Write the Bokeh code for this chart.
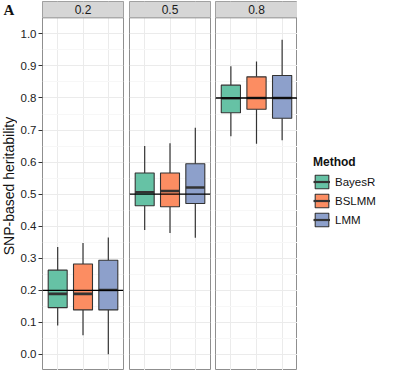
import math
from bokeh.plotting import figure
from bokeh.models import (Range1d, FixedTicker, Span, Legend, LegendItem,
                          ColumnDataSource, NumeralTickFormatter)
from bokeh.layouts import row
from bokeh.embed import file_html
from bokeh.resources import INLINE
from bokeh.core.properties import value

# ---------------- data ----------------
methods = ["BayesR", "BSLMM", "LMM"]
colors = ["#66C2A5", "#FC8D62", "#8DA0CB"]
h2_labels = ["0.2", "0.5", "0.8"]
h2_true = [0.2, 0.5, 0.8]

lower_02 = [0.090, 0.060, 0.001]
q1_02 = [0.146, 0.139, 0.139]
med_02 = [0.189, 0.189, 0.201]
q3_02 = [0.263, 0.282, 0.294]
upper_02 = [0.335, 0.348, 0.365]

lower_05 = [0.388, 0.379, 0.364]
q1_05 = [0.464, 0.461, 0.471]
med_05 = [0.506, 0.510, 0.521]
q3_05 = [0.566, 0.566, 0.595]
upper_05 = [0.650, 0.659, 0.707]

lower_08 = [0.681, 0.657, 0.668]
q1_08 = [0.754, 0.765, 0.737]
med_08 = [0.799, 0.800, 0.800]
q3_08 = [0.840, 0.866, 0.870]
upper_08 = [0.899, 0.914, 0.982]

y_ticks = [0.0, 0.1, 0.2, 0.3, 0.4, 0.5, 0.6, 0.7, 0.8, 0.9, 1.0]
y_minor = [-0.05, 0.05, 0.15, 0.25, 0.35, 0.45, 0.55, 0.65, 0.75, 0.85, 0.95, 1.05]

panel_title = "A"
y_label = "SNP-based heritability"
legend_title = "Method"

panels = [
    (lower_02, q1_02, med_02, q3_02, upper_02),
    (lower_05, q1_05, med_05, q3_05, upper_05),
    (lower_08, q1_08, med_08, q3_08, upper_08),
]

FONT = "Liberation Sans"
Y0, Y1 = -0.05, 1.05
STRIP = 0.051
FRAME_H = 369
FRAME_W = [81, 81, 82]
BOX_W = 0.75
EDGE = "#333333"
BORDER = "#8F8F8F"


def bare(p):
    p.outline_line_color = None
    p.xgrid.visible = False
    p.ygrid.visible = False
    p.background_fill_color = "white"
    p.border_fill_color = "white"


# ---- left strip: panel tag + y-axis title ----
fa = figure(frame_width=17, frame_height=FRAME_H, x_range=Range1d(0, 1),
            y_range=Range1d(Y0, Y1 + STRIP), output_backend="svg", toolbar_location=None,
            min_border_top=1, min_border_bottom=0, min_border_left=0, min_border_right=0,
            x_axis_location=None, y_axis_location=None)
bare(fa)
fa.text(x=[0.5], y=[Y1 + STRIP / 2], text=[panel_title], text_align="center",
        text_baseline="middle", text_font=value("Liberation Serif"),
        text_font_style="bold", text_font_size="15px", text_color="#111111")
fa.text(x=[0.5], y=[(Y0 + Y1 + STRIP) / 2], text=[y_label], angle=math.pi / 2,
        text_align="center", text_baseline="middle", text_font=value(FONT),
        text_font_size="14px", text_color="#111111")

figs = [fa]
for k, (lo, q1, md, q3, hi) in enumerate(panels):
    is_first = k == 0
    is_last = k == len(panels) - 1
    p = figure(frame_width=FRAME_W[k], frame_height=FRAME_H,
               x_range=Range1d(0.4, 3.6), y_range=Range1d(Y0, Y1 + STRIP),
               output_backend="svg", toolbar_location=None,
               min_border_top=1, min_border_bottom=0,
               min_border_left=23 if is_first else (3 if k == 1 else 2),
               min_border_right=3 if not is_last else 0,
               x_axis_location=None, y_axis_location="left" if is_first else None)
    p.outline_line_color = BORDER
    p.outline_line_width = 1
    p.background_fill_color = "white"
    p.border_fill_color = "white"

    p.xgrid.ticker = FixedTicker(ticks=[1, 2, 3])
    p.xgrid.grid_line_color = "#EBEBEB"
    p.ygrid.ticker = FixedTicker(ticks=y_ticks, minor_ticks=y_minor)
    p.ygrid.grid_line_color = "#EBEBEB"
    p.ygrid.minor_grid_line_color = "#F7F7F7"

    if is_first:
        ax = p.yaxis[0]
        ax.ticker = FixedTicker(ticks=y_ticks)
        ax.formatter = NumeralTickFormatter(format="0.0")
        ax.axis_line_color = None
        ax.major_tick_in = 0
        ax.major_tick_out = 4
        ax.major_tick_line_color = "#333333"
        ax.minor_tick_line_color = None
        ax.major_label_text_font = FONT
        ax.major_label_text_font_size = "11.5px"
        ax.major_label_text_color = "#222222"
        ax.major_label_standoff = 2

    xs = [1, 2, 3]
    src = ColumnDataSource(dict(x=xs, lo=lo, q1=q1, md=md, q3=q3, hi=hi))
    p.segment(x0="x", x1="x", y0="q3", y1="hi", source=src, line_color=EDGE, line_width=1.2)
    p.segment(x0="x", x1="x", y0="lo", y1="q1", source=src, line_color=EDGE, line_width=1.2)
    for i, m in enumerate(methods):
        s1 = ColumnDataSource(dict(x=[xs[i]], q1=[q1[i]], q3=[q3[i]], md=[md[i]]))
        p.vbar(x="x", width=BOX_W, bottom="q1", top="q3", source=s1,
               fill_color=colors[i], line_color=EDGE, line_width=1.1)
        p.segment(x0=xs[i] - BOX_W / 2, x1=xs[i] + BOX_W / 2, y0="md", y1="md",
                  source=s1, line_color=EDGE, line_width=2.6)

    p.add_layout(Span(location=h2_true[k], dimension="width", line_color="black",
                      line_width=1.3))

    # strip header
    p.quad(left=0.4, right=3.6, bottom=Y1, top=Y1 + STRIP, fill_color="#D6D6D6",
           line_color=None)
    p.add_layout(Span(location=Y1, dimension="width", line_color=BORDER, line_width=1))
    p.text(x=[2.0], y=[Y1 + STRIP / 2], text=[h2_labels[k]], text_align="center",
           text_baseline="middle", text_font=value(FONT), text_font_size="12px",
           text_color="#1A1A1A")
    figs.append(p)

# ---- legend panel (key glyphs: hidden copies of the last panel's boxes) ----
fl = figure(frame_width=80, frame_height=FRAME_H, x_range=Range1d(0.4, 3.6),
            y_range=Range1d(Y0, Y1 + STRIP), output_backend="svg", toolbar_location=None,
            min_border_top=1, min_border_bottom=0, min_border_left=0, min_border_right=0,
            x_axis_location=None, y_axis_location=None)
bare(fl)
items = []
for i, m in enumerate(methods):
    ks = ColumnDataSource(dict(x=[i + 1], b=[q1_08[i]], t=[q3_08[i]]))
    rb = fl.vbar(x="x", width=BOX_W, bottom="b", top="t", source=ks,
                 fill_color=colors[i], line_color=EDGE, line_width=1.1, visible=False)
    rm = fl.segment(x0="x", x1="x", y0="b", y1="t", source=ks,
                    line_color=EDGE, line_width=2.2, visible=False)
    items.append(LegendItem(label=m, renderers=[rb, rm]))
leg = Legend(items=items, title=legend_title, location=(16, 142))
leg.title_text_font = FONT
leg.title_text_font_style = "bold"
leg.title_text_font_size = "12px"
leg.title_text_color = "#111111"
leg.title_standoff = 4
leg.label_text_font = FONT
leg.label_text_font_size = "11.5px"
leg.label_text_color = "#111111"
leg.glyph_width = 17
leg.glyph_height = 17
leg.spacing = 2
leg.label_standoff = 5
leg.border_line_color = None
leg.background_fill_alpha = 0
leg.inactive_fill_alpha = 0
leg.margin = 0
leg.padding = 10
fl.add_layout(leg)
figs.append(fl)

layout = row(*figs, spacing=0)
open("out.html", "w").write(file_html(layout, INLINE))
